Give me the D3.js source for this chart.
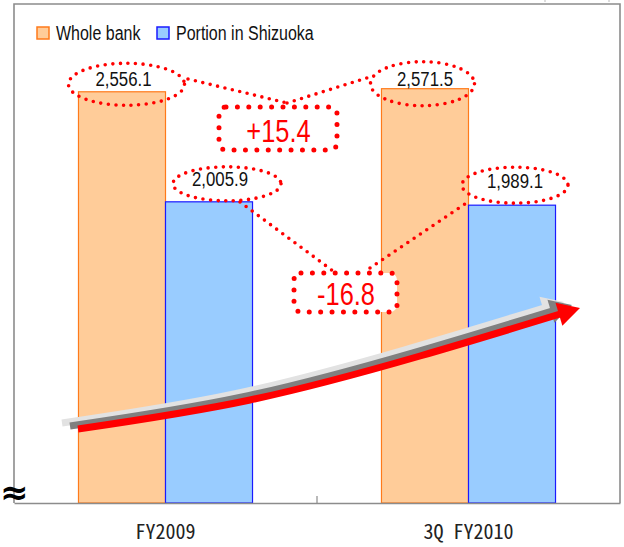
<!DOCTYPE html>
<html>
<head>
<meta charset="utf-8">
<script src="https://cdnjs.cloudflare.com/ajax/libs/d3/7.8.5/d3.min.js"></script>
<style>
  html, body { margin: 0; padding: 0; background: #fff; }
  svg { display: block; }
</style>
</head>
<body>
<svg id="chart" width="624" height="547"></svg>
<script>
// ---- data ----
const categories = ["FY2009", "3Q FY2010"];
const seriesNames = ["Whole bank", "Portion in Shizuoka"];
const wholeBank = [2556.1, 2571.5];
const shizuoka = [2005.9, 1989.1];
const yDomain = [500, 3000];   // value axis is broken below 500

// ---- styles ----
const fills = ["#FFCC99", "#99CCFF"];
const strokes = ["#FF7A1A", "#1A1AFF"];
const frameColor = "#8c8c8c";
const red = "#FF0000";

// pick an available narrow sans and a mono face
function has(name) {
  const ctx = document.createElement("canvas").getContext("2d");
  const s = "Whole bank 2,556.1 FY2009";
  ctx.font = "40px monospace";
  const a = ctx.measureText(s).width;
  ctx.font = `40px "${name}", monospace`;
  const b = ctx.measureText(s).width;
  return Math.abs(a - b) > 0.5;
}
const hasNarrow = has("Liberation Sans Narrow");
const narrowFont = hasNarrow ? "'Liberation Sans Narrow'" : "'Liberation Sans'";
const squeeze = hasNarrow ? 1 : 0.82;   // condense the regular face when no narrow face exists
const monoFont = has("Noto Sans Mono CJK JP") ? "'Noto Sans Mono CJK JP'" : "'Liberation Mono'";
const monoSize = has("Noto Sans Mono CJK JP") ? 20 : 17;

// narrow text helper: positioned group, horizontally condensed text
function narrowText(parent, px, py, str, size, color, anchor) {
  const g = parent.append("g").attr("transform", `translate(${px},${py}) scale(${squeeze},1)`);
  g.append("text").attr("x", 0).attr("y", 0)
    .attr("text-anchor", anchor || "start")
    .attr("font-family", narrowFont).attr("font-size", size).attr("fill", color)
    .text(str);
  return g;
}

const svg = d3.select("#chart");
const plot = { left: 14, right: 620, top: 3, bottom: 503 };

const x = d3.scaleBand().domain(categories).range([plot.left, plot.right]).paddingInner(0).paddingOuter(0);
const xs = d3.scaleBand().domain(seriesNames).range([0, x.bandwidth()]).paddingInner(0).paddingOuter(0.741);
const y = d3.scaleLinear().domain(yDomain).range([plot.bottom, plot.top]);

const fmt = d3.format(",.1f");
const signFmt = d3.formatLocale({ decimal: ".", thousands: ",", grouping: [3], currency: ["", ""], minus: "-" }).format("+.1f");

const series = [wholeBank, shizuoka];
const bars = [];
series.forEach((vals, s) => vals.forEach((v, c) => bars.push({ s, c, v, cat: categories[c], name: seriesNames[s] })));

// ---- frame ----
svg.append("path")
  .attr("d", `M${plot.left},${plot.bottom}V${plot.top + 1}H${plot.right}V${plot.bottom}`)
  .attr("fill", "none").attr("stroke", frameColor).attr("stroke-width", 1.6);

// small marks along the top edge
[545, 609].forEach(px => svg.append("line")
  .attr("x1", px).attr("x2", px).attr("y1", 0).attr("y2", 2)
  .attr("stroke", "#bbb").attr("stroke-width", 1));

// ---- bars ----
svg.append("g").selectAll("rect").data(bars).join("rect")
  .attr("x", d => x(d.cat) + xs(d.name))
  .attr("y", d => y(d.v))
  .attr("width", xs.bandwidth())
  .attr("height", d => y(yDomain[0]) - y(d.v))
  .attr("fill", d => fills[d.s])
  .attr("stroke", d => strokes[d.s])
  .attr("stroke-width", 1.2);

// ---- x axis ----
const xAxis = d3.axisBottom(x).tickSize(0).tickPadding(20);
const gx = svg.append("g").attr("transform", `translate(0,${plot.bottom})`).call(xAxis);
gx.select(".domain").attr("stroke", frameColor).attr("stroke-width", 1.6);
gx.selectAll(".tick text")
  .attr("font-family", monoFont).attr("font-size", monoSize).attr("fill", "#222")
  .attr("dy", "0.71em").attr("y", 22);
// divider tick between categories
svg.append("line")
  .attr("x1", x(categories[1])).attr("x2", x(categories[1]))
  .attr("y1", plot.bottom - 7).attr("y2", plot.bottom)
  .attr("stroke", frameColor).attr("stroke-width", 1.2);

// axis break symbol
svg.append("text")
  .attr("x", 0).attr("y", plot.bottom + 0.5)
  .attr("font-family", "'DejaVu Sans'").attr("font-weight", "bold").attr("font-size", 34)
  .attr("fill", "#000").text("≈");

// ---- growth arrow (decorative) ----
const arrowPts = [[78, 429], [250, 400], [420, 356], [560, 314]];
const tip = [580, 308];
const line = d3.line().curve(d3.curveNatural);
function drawArrow(color, dx, dy) {
  const g = svg.append("g").attr("transform", `translate(${dx},${dy})`);
  g.append("path").attr("d", line(arrowPts)).attr("fill", "none")
    .attr("stroke", color).attr("stroke-width", 7);
  const last = arrowPts[arrowPts.length - 1];
  const ang = Math.atan2(tip[1] - last[1], tip[0] - last[0]);
  const len = 22, hw = 12;
  const bx = tip[0] - len * Math.cos(ang), by = tip[1] - len * Math.sin(ang);
  const nx = -Math.sin(ang), ny = Math.cos(ang);
  g.append("path")
    .attr("d", `M${tip[0]},${tip[1]}L${bx + hw * nx},${by + hw * ny}L${bx - hw * nx},${by - hw * ny}Z`)
    .attr("fill", color);
}
drawArrow("#E2E2E2", -16, -6);
drawArrow("#808080", -8, -3);
drawArrow(red, 0, 0);

// ---- value labels with dotted ellipses ----
// offsets [dx from bar centre, dy from bar top] for the label, then ellipse offset from label and radii
const labelLayout = {
  "0-0": { dx: 1.5, dy: -6, ex: 3, ey: -1.5, rx: 58, ry: 21 },
  "1-0": { dx: 11, dy: -16, ex: 7, ey: -2, rx: 54, ry: 17 },
  "0-1": { dx: 0, dy: -3, ex: -2.5, ey: -2, rx: 52, ry: 22 },
  "1-1": { dx: 3, dy: -17, ex: 0, ey: -3, rx: 53, ry: 18 }
};
const dotted = sel => sel.attr("fill", "none").attr("stroke", red).attr("stroke-width", 3.6)
  .attr("stroke-linecap", "round").attr("stroke-dasharray", "0 7.6");

// connectors between labels and change boxes
const connectors = [
  [[188, 79], [287, 103]],
  [[287, 103], [373, 76]],
  [[240, 202], [333, 271]],
  [[370, 268], [465, 204]]
];
connectors.forEach(([a, b]) => svg.append("line")
  .attr("x1", a[0]).attr("y1", a[1]).attr("x2", b[0]).attr("y2", b[1]).call(dotted));

const gl = svg.append("g");
bars.forEach(d => {
  const L = labelLayout[`${d.s}-${d.c}`];
  const cx = x(d.cat) + xs(d.name) + xs.bandwidth() / 2 + L.dx;
  const by = y(d.v) + L.dy;
  gl.append("ellipse").attr("cx", cx + L.ex).attr("cy", by + L.ey).attr("rx", L.rx).attr("ry", L.ry).call(dotted);
  narrowText(gl, cx, by, fmt(d.v), 20.5, "#111", "middle");
});

// ---- change boxes ----
const changeBoxes = [
  { vals: wholeBank, x: 219, y: 107, w: 118, h: 43, tx: 278.5, ty: 142 },
  { vals: shizuoka, x: 294, y: 273, w: 103, h: 39, tx: 346, ty: 305 }
];
changeBoxes.forEach(b => {
  const delta = Math.round((b.vals[1] - b.vals[0]) * 10) / 10;
  svg.append("rect").attr("x", b.x).attr("y", b.y).attr("width", b.w).attr("height", b.h)
    .attr("rx", 7).attr("fill", "#fff")
    .attr("stroke", red).attr("stroke-width", 5).attr("stroke-linecap", "round")
    .attr("stroke-dasharray", "0 11.4");
  narrowText(svg, b.tx, b.ty, signFmt(delta), 31, red, "middle");
});

// ---- legend ----
const legend = svg.append("g");
const legendX = [37, 157];
seriesNames.forEach((n, i) => {
  legend.append("rect").attr("x", legendX[i]).attr("y", 27).attr("width", 12).attr("height", 12)
    .attr("fill", fills[i]).attr("stroke", strokes[i]).attr("stroke-width", 1.5);
  narrowText(legend, legendX[i] + 19, 39.5, n, 19.5, "#111");
});
</script>
</body>
</html>
